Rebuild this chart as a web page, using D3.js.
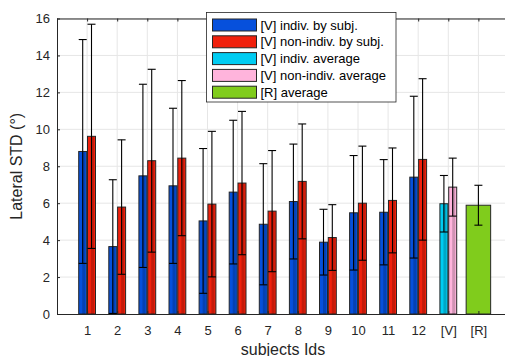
<!DOCTYPE html>
<html>
<head>
<meta charset="utf-8">
<script src="https://cdn.jsdelivr.net/npm/d3@7"></script>
<style>
  body { margin: 0; background: #fff; }
  svg { font-family: "Liberation Sans", Arial, sans-serif; display: block; }
</style>
</head>
<body>
<script>
const width = 505,
      height = 356;

// data
const subjects = ["1", "2", "3", "4", "5", "6", "7", "8", "9", "10", "11", "12"];
const indivMean = [8.80, 3.65, 7.48, 6.94, 5.04, 6.60, 4.86, 6.09, 3.89, 5.48, 5.51, 7.41];
const indivStd = [6.06, 3.62, 4.96, 4.20, 3.92, 3.89, 3.28, 3.11, 1.78, 3.10, 2.85, 4.38];
const nonIndivMean = [9.62, 5.79, 8.30, 8.44, 5.95, 7.09, 5.57, 7.18, 4.14, 6.00, 6.15, 8.37];
const nonIndivStd = [6.07, 3.64, 4.95, 4.20, 3.94, 3.88, 3.28, 3.11, 1.78, 3.09, 2.84, 4.37];
const avgLabels = ["[V]", "[R]"];
const vIndivAvg = [5.97, 1.53];
const vNonIndivAvg = [6.87, 1.57];
const rAvg = [5.89, 1.08];
const yTicks = [0, 2, 4, 6, 8, 10, 12, 14, 16];
const legendLabels = ["[V] indiv. by subj.", "[V] non-indiv. by subj.", "[V] indiv. average",
                      "[V] non-indiv. average", "[R] average"];
const colors = ["#0650dc", "#f0200c", "#00ccf2", "#ffb4dc", "#80cc1c"];

const tickLabels = subjects.concat(avgLabels);

const x = d3.scaleLinear()
    .domain([0, tickLabels.length + 1])
    .range([57, 508.5]);

const y = d3.scaleLinear()
    .domain([0, 16])
    .range([314, 18.5]);

const svg = d3.select("body")
    .append("svg")
    .attr("width", width)
    .attr("height", height);

// grid
svg.append("g")
    .selectAll("line")
    .data(yTicks.slice(1))
    .enter().append("line")
    .attr("x1", x(0)).attr("x2", width)
    .attr("y1", d => y(d)).attr("y2", d => y(d))
    .attr("stroke", "#e6e6e6");

svg.append("g")
    .selectAll("line")
    .data(tickLabels)
    .enter().append("line")
    .attr("x1", (d, i) => x(i + 1)).attr("x2", (d, i) => x(i + 1))
    .attr("y1", y(0)).attr("y2", y(16))
    .attr("stroke", "#e6e6e6");

// bars: one entry per bar
const bw = 8, off = 4.4;
const bars = [];
subjects.forEach((s, i) => {
  bars.push({pos: i + 1, dx: -off, w: bw, mean: indivMean[i], std: indivStd[i], color: colors[0]});
  bars.push({pos: i + 1, dx: off, w: bw, mean: nonIndivMean[i], std: nonIndivStd[i], color: colors[1]});
});
bars.push({pos: 13, dx: -off, w: bw, mean: vIndivAvg[0], std: vIndivAvg[1], color: colors[2]});
bars.push({pos: 13, dx: off, w: bw, mean: vNonIndivAvg[0], std: vNonIndivAvg[1], color: colors[3]});
bars.push({pos: 14, dx: 0, w: 24.5, mean: rAvg[0], std: rAvg[1], color: colors[4]});

const barG = svg.append("g");

barG.selectAll("rect.bar")
    .data(bars)
    .enter().append("rect")
    .attr("class", "bar")
    .attr("x", d => x(d.pos) + d.dx - d.w / 2)
    .attr("width", d => d.w)
    .attr("y", d => y(d.mean))
    .attr("height", d => y(0) - y(d.mean))
    .attr("fill", d => d.color)
    .attr("stroke", "#262626")
    .attr("stroke-width", 1);

// darker strip inside the bars
barG.selectAll("rect.shade")
    .data(bars.filter(d => d.w < 20))
    .enter().append("rect")
    .attr("class", "shade")
    .attr("x", d => x(d.pos) + d.dx - 0.5)
    .attr("width", 3)
    .attr("y", d => y(d.mean))
    .attr("height", d => y(0) - y(d.mean))
    .attr("fill", "#000")
    .attr("opacity", 0.18);

// error bars
const err = svg.append("g")
    .attr("stroke", "#000")
    .attr("stroke-width", 1.1);

err.selectAll("line.v")
    .data(bars)
    .enter().append("line")
    .attr("x1", d => x(d.pos) + d.dx).attr("x2", d => x(d.pos) + d.dx)
    .attr("y1", d => y(Math.max(0, d.mean - d.std)))
    .attr("y2", d => y(d.mean + d.std));

err.selectAll("line.top")
    .data(bars)
    .enter().append("line")
    .attr("x1", d => x(d.pos) + d.dx - 4).attr("x2", d => x(d.pos) + d.dx + 4)
    .attr("y1", d => y(d.mean + d.std)).attr("y2", d => y(d.mean + d.std));

err.selectAll("line.bot")
    .data(bars)
    .enter().append("line")
    .attr("x1", d => x(d.pos) + d.dx - 4).attr("x2", d => x(d.pos) + d.dx + 4)
    .attr("y1", d => y(Math.max(0, d.mean - d.std))).attr("y2", d => y(Math.max(0, d.mean - d.std)));

// axes
const xAxis = svg.append("g")
    .attr("transform", `translate(0,${y(0)})`)
    .call(d3.axisBottom(x)
      .tickValues(d3.range(1, tickLabels.length + 1))
      .tickFormat(d => tickLabels[d - 1])
      .tickSize(-3)
      .tickPadding(12));

xAxis.select(".domain").attr("stroke", "#262626").attr("d", `M${x(0)},0.5H${width}`);
xAxis.selectAll("line").attr("stroke", "#262626");
xAxis.selectAll("text")
    .attr("fill", "#262626")
    .style("font-size", "13px");

const xTop = svg.append("g")
    .attr("transform", `translate(0,${y(16)})`)
    .call(d3.axisTop(x)
      .tickValues(d3.range(1, tickLabels.length + 1))
      .tickFormat("")
      .tickSize(-3));
xTop.select(".domain").attr("stroke", "#262626").attr("d", `M${x(0)},0.5H${width}`);
xTop.selectAll("line").attr("stroke", "#262626");

const yAxis = svg.append("g")
    .attr("transform", `translate(${x(0)},0)`)
    .call(d3.axisLeft(y)
      .tickValues(yTicks)
      .tickSize(-3)
      .tickPadding(7));
yAxis.select(".domain").attr("stroke", "#262626").attr("d", `M0.5,${y(0)}V${y(16)}`);
yAxis.selectAll("line").attr("stroke", "#262626");
yAxis.selectAll("text")
    .attr("fill", "#262626")
    .style("font-size", "13px");

// axis titles
svg.append("text")
    .attr("x", 283)
    .attr("y", 354.5)
    .attr("text-anchor", "middle")
    .attr("fill", "#262626")
    .style("font-size", "16px")
    .text("subjects Ids");

svg.append("text")
    .attr("transform", `translate(22,${(y(0) + y(16)) / 2}) rotate(-90)`)
    .attr("text-anchor", "middle")
    .attr("fill", "#262626")
    .style("font-size", "16px")
    .text("Lateral STD (°)");

// legend
const legend = svg.append("g")
    .attr("transform", "translate(206.5,12.5)");

legend.append("rect")
    .attr("width", 189.5)
    .attr("height", 89.5)
    .attr("fill", "#fff")
    .attr("stroke", "#262626")
    .attr("stroke-width", 0.8);

const items = legend.selectAll("g.item")
    .data(legendLabels)
    .enter().append("g")
    .attr("class", "item")
    .attr("transform", (d, i) => `translate(0,${12.5 + i * 16.8})`);

items.append("rect")
    .attr("x", 6)
    .attr("y", -6)
    .attr("width", 44)
    .attr("height", 12)
    .attr("fill", (d, i) => colors[i])
    .attr("stroke", "#262626")
    .attr("stroke-width", 1);

items.append("text")
    .attr("x", 54)
    .attr("dy", "0.35em")
    .attr("fill", "#000")
    .style("font-size", "13px")
    .text(d => d);
</script>
</body>
</html>
